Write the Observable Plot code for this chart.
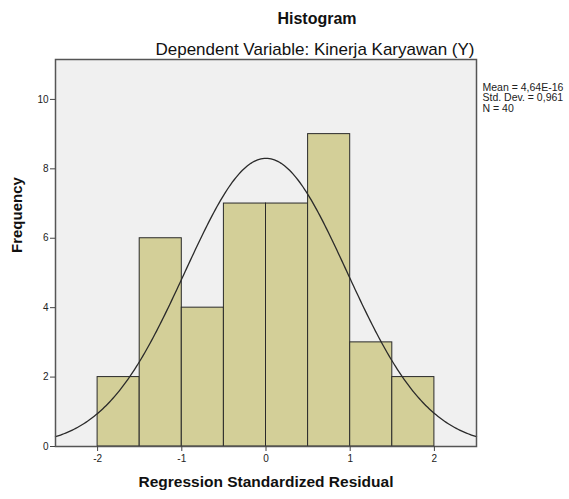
<!DOCTYPE html>
<html>
<head>
<meta charset="utf-8">
<script src="https://cdn.jsdelivr.net/npm/d3@7"></script>
<script src="https://cdn.jsdelivr.net/npm/@observablehq/plot@0.6"></script>
<style>
  body { margin: 0; background: #fff; }
  svg { font-family: "Liberation Sans", Arial, sans-serif; }
</style>
</head>
<body>
<div id="chart"></div>
<script>
const binStart = [-2, -1.5, -1, -0.5, 0, 0.5, 1, 1.5];
const binEnd   = [-1.5, -1, -0.5, 0, 0.5, 1, 1.5, 2];
const counts   = [2, 6, 4, 7, 7, 9, 3, 2];
const xTicks = [-2, -1, 0, 1, 2];
const yTicks = [0, 2, 4, 6, 8, 10];
const meanVal = 4.64e-16;
const sdVal = 0.961;
const nVal = 40;
const binWidth = 0.5;
const statLines = ["Mean = 4,64E-16", "Std. Dev. = 0,961", "N = 40"];
const titleText = "Histogram";
const subtitleText = "Dependent Variable: Kinerja Karyawan (Y)";
const xLabel = "Regression Standardized Residual";
const yLabel = "Frequency";

const bars = binStart.map((s, i) => ({x1: s, x2: binEnd[i], y: counts[i]}));
const curve = d3.range(-2.5, 2.5001, 0.02).map(x => ({
  x,
  y: nVal * binWidth * Math.exp(-0.5 * ((x - meanVal) / sdVal) ** 2) / (sdVal * Math.sqrt(2 * Math.PI))
}));

const chart = Plot.plot({
  width: 569,
  height: 499,
  marginLeft: 55,
  marginRight: 93,
  marginTop: 59,
  marginBottom: 53,
  style: {fontFamily: "'Liberation Sans', Arial, sans-serif", fontSize: "10px", color: "#222", background: "#fff"},
  x: {domain: [-2.5, 2.5]},
  y: {domain: [0, 11.15]},
  marks: [
    Plot.frame({fill: "#f0f0f0", stroke: null}),
    Plot.rectY(bars, {x1: "x1", x2: "x2", y: "y", fill: "#d3cf98", stroke: "#2a2a2a", strokeWidth: 1, inset: 0}),
    Plot.line(curve, {x: "x", y: "y", stroke: "#2a2a2a", strokeWidth: 1.3}),
    Plot.frame({stroke: "#555", strokeWidth: 1.5}),
    Plot.axisX({ticks: xTicks, tickSize: 5, tickPadding: 3, tickFormat: d => String(d), label: null, stroke: "#444", fontSize: 10}),
    Plot.axisY({ticks: yTicks, tickSize: 5, tickPadding: 2, tickFormat: d => String(d), label: null, stroke: "#444", fontSize: 10}),
    Plot.text([titleText], {frameAnchor: "top", dx: 51, dy: -47, fontSize: 16, fontWeight: "bold", fill: "#111"}),
    Plot.text([subtitleText], {frameAnchor: "top", dx: 49, dy: -17, fontSize: 17, fill: "#111"}),
    Plot.text([xLabel], {frameAnchor: "bottom", dy: 40, fontSize: 15.5, fontWeight: "bold", fill: "#111"}),
    Plot.text([yLabel], {frameAnchor: "left", dx: -38, rotate: -90, fontSize: 15, fontWeight: "bold", fill: "#111"}),
    Plot.text([statLines.join("\n")], {frameAnchor: "top-right", dx: 6, dy: 24, textAnchor: "start", lineAnchor: "top", lineHeight: 1.0, fill: "#222", fontSize: 10.5})
  ]
});
document.getElementById("chart").appendChild(chart);
</script>
</body>
</html>
